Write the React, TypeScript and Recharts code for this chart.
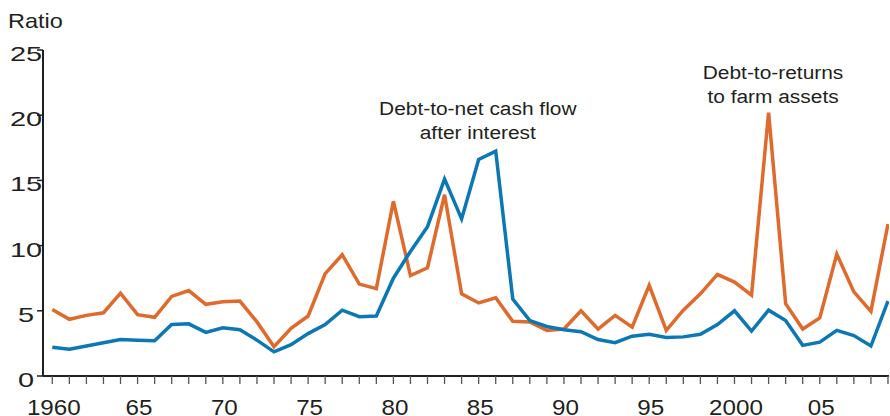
import React from 'react';
import { LineChart, Line, XAxis, YAxis, ReferenceDot } from 'recharts';

const years = [
  1960, 1961, 1962, 1963, 1964, 1965, 1966, 1967, 1968, 1969,
  1970, 1971, 1972, 1973, 1974, 1975, 1976, 1977, 1978, 1979,
  1980, 1981, 1982, 1983, 1984, 1985, 1986, 1987, 1988, 1989,
  1990, 1991, 1992, 1993, 1994, 1995, 1996, 1997, 1998, 1999,
  2000, 2001, 2002, 2003, 2004, 2005, 2006, 2007, 2008, 2009,
];

// Debt-to-net cash flow after interest (blue)
const debtToCashFlow = [
  2.2, 2.05, 2.3, 2.55, 2.8, 2.75, 2.7, 3.95, 4.0, 3.35,
  3.7, 3.55, 2.75, 1.85, 2.4, 3.25, 3.95, 5.05, 4.55, 4.6,
  7.5, 9.55, 11.45, 15.1, 12.05, 16.6, 17.25, 5.9, 4.25, 3.8,
  3.55, 3.4, 2.8, 2.55, 3.05, 3.2, 2.95, 3.0, 3.2, 3.95,
  5.0, 3.45, 5.05, 4.25, 2.35, 2.6, 3.5, 3.1, 2.3, 5.75,
];

// Debt-to-returns to farm assets (orange)
const debtToReturns = [
  5.1, 4.35, 4.65, 4.85, 6.35, 4.7, 4.5, 6.1, 6.55, 5.5,
  5.7, 5.75, 4.15, 2.25, 3.65, 4.6, 7.85, 9.3, 7.05, 6.7,
  13.4, 7.7, 8.3, 13.9, 6.3, 5.6, 6.0, 4.2, 4.15, 3.5,
  3.6, 5.0, 3.6, 4.65, 3.75, 6.95, 3.5, 5.05, 6.3, 7.8,
  7.2, 6.2, 20.2, 5.55, 3.6, 4.45, 9.35, 6.45, 4.95, 11.65,
];

const labeledYears = [1960, 1965, 1970, 1975, 1980, 1985, 1990, 1995, 2000, 2005];
const xTickLabels = ['1960', '65', '70', '75', '80', '85', '90', '95', '2000', '05'];
const yTicks = [0, 5, 10, 15, 20, 25];

const annotationYears = [1984.95, 2002.26];
const annotationValues = [20.0, 22.8];
const annotationTexts = [
  ['Debt-to-net cash flow', 'after interest'],
  ['Debt-to-returns', 'to farm assets'],
];

const data = years.map((year, i) => ({
  year,
  cashFlow: debtToCashFlow[i],
  returns: debtToReturns[i],
}));

const FONT = '"Liberation Sans", Arial, Helvetica, sans-serif';
const TEXT = '#231f20';
const BLUE = '#0b77b5';
const ORANGE = '#df6a2b';

const XTick = (props: any) => {
  const { x, y, payload } = props;
  const idx = labeledYears.indexOf(payload.value);
  if (idx < 0) return <g />;
  return (
    <text
      transform={`translate(${x + 1.5},${y + 31}) scale(1.1,1)`}
      textAnchor="middle"
      fontSize={22}
      fontFamily={FONT}
      fill={TEXT}
    >
      {xTickLabels[idx]}
    </text>
  );
};

const YTick = (props: any) => {
  const { x, y, payload } = props;
  return (
    <text
      transform={`translate(${x - 11},${y + 11}) scale(1.45,1)`}
      textAnchor="middle"
      fontSize={20}
      fontFamily={FONT}
      fill={TEXT}
    >
      {payload.value}
    </text>
  );
};

const AnnLabel = (props: any) => {
  const vb = props.viewBox || {};
  const cx = (vb.x ?? 0) + (vb.width ?? 0) / 2;
  const cy = (vb.y ?? 0) + (vb.height ?? 0) / 2;
  const lines: string[] = props.lines || [];
  return (
    <g>
      {lines.map((t, i) => (
        <text
          key={i}
          transform={`translate(${cx},${cy + i * 24}) scale(1.1,1)`}
          textAnchor="middle"
          fontSize={19}
          fontFamily={FONT}
          fill={TEXT}
        >
          {t}
        </text>
      ))}
    </g>
  );
};

export default function App() {
  return (
    <div style={{ position: 'absolute', left: 0, top: 0, width: 890, height: 416, background: '#fff' }}>
      <LineChart
        width={890}
        height={416}
        data={data}
        margin={{ top: 50, right: 1, bottom: 0, left: 0 }}
      >
        <XAxis
          dataKey="year"
          type="number"
          domain={[1959.455, 2009.06]}
          ticks={years}
          interval={0}
          tick={<XTick />}
          tickSize={8}
          tickMargin={0}
          height={40}
          axisLine={{ stroke: TEXT, strokeWidth: 2 }}
          tickLine={{ stroke: '#555', strokeWidth: 1.3 }}
          allowDataOverflow
        />
        <YAxis
          type="number"
          domain={[0, 25]}
          ticks={yTicks}
          interval={0}
          width={43}
          tick={<YTick />}
          tickSize={6}
          tickMargin={0}
          axisLine={{ stroke: TEXT, strokeWidth: 2 }}
          tickLine={{ stroke: TEXT, strokeWidth: 1.5 }}
        />
        <Line
          type="linear"
          dataKey="returns"
          stroke={ORANGE}
          strokeWidth={3.5}
          dot={false}
          activeDot={false}
          isAnimationActive={false}
        />
        <Line
          type="linear"
          dataKey="cashFlow"
          stroke={BLUE}
          strokeWidth={3.5}
          dot={false}
          activeDot={false}
          isAnimationActive={false}
        />
        {annotationYears.map((ax, i) => (
          <ReferenceDot
            key={i}
            x={ax}
            y={annotationValues[i]}
            r={0}
            fill="none"
            stroke="none"
            ifOverflow="visible"
            label={<AnnLabel lines={annotationTexts[i]} />}
          />
        ))}
      </LineChart>
      <svg
        width={890}
        height={416}
        style={{ position: 'absolute', left: 0, top: 0, pointerEvents: 'none' }}
      >
        <text
          transform="translate(8,28.3) scale(1.12,1)"
          fontSize={21}
          fontFamily={FONT}
          fill={TEXT}
        >
          Ratio
        </text>
      </svg>
    </div>
  );
}
